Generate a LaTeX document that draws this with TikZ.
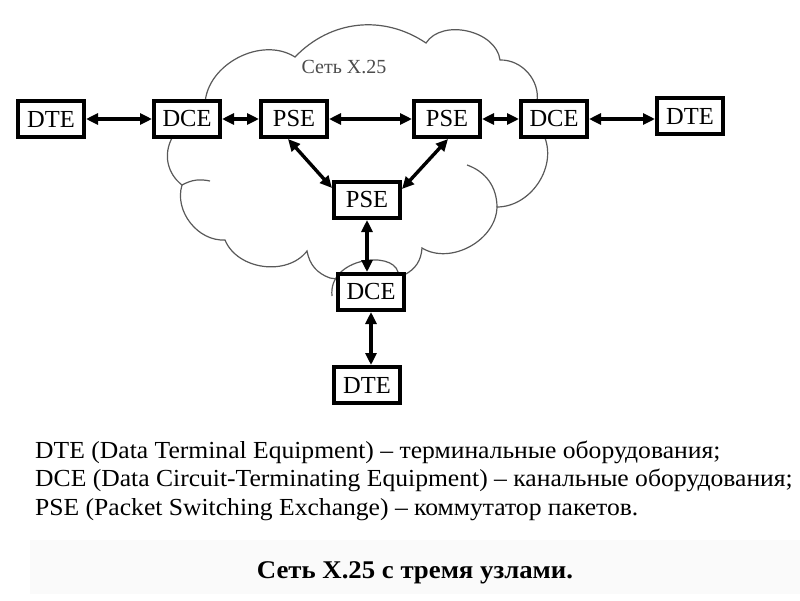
\documentclass[tikz,border=0pt]{standalone}
\usepackage{fontspec}
\setmainfont{Liberation Serif}
\usetikzlibrary{arrows.meta}
\begin{document}
\begin{tikzpicture}[x=1pt,y=-1pt,
  box/.style={draw, line width=4pt, fill=white, minimum width=66pt, minimum height=36pt, inner sep=0pt, font=\fontsize{24.5}{24.5}\selectfont},
  link/.style={line width=3.4pt, {Triangle[length=12pt,width=11pt]}-{Triangle[length=12pt,width=11pt]}},
  cloudline/.style={draw=black!65, line width=1.2pt},
  legend/.style={anchor=base west, inner sep=0pt, xscale=1.045, font=\fontsize{24.5}{24.5}\selectfont}]
\useasboundingbox (0,0) rectangle (800,600);
\fill[black!2] (30,540) rectangle (800,594);
% cloud
\draw[cloudline, fill=white] (205,104) to[bend left=60] (295,57) to[bend left=40] (426,43)
  to[bend left=70] (500,60) to[bend left=50] (537,102) -- (545,138)
  to[bend left=55] (497,207) to[bend left=60] (422,248) to[bend left=30] (404,275)
  -- (337,279) -- (330,278) to[bend left=30] (307,251) to[bend left=60] (225,240)
  to[bend left=55] (182,185) to[bend left=40] (172,138) -- cycle;
\draw[cloudline] (467,165) to[bend left=35] (497,207);
\draw[cloudline] (182,185) to[bend left=20] (210,181);
\draw[cloudline] (332,296) .. controls (328,258) and (392,250) .. (398,272);
\node[text=black!70, font=\fontsize{20}{20}\selectfont, inner sep=0pt] (cloudlbl) at (344,67) {Сеть X.25};
% boxes
\node[box] (dte1) at (51,119) {DTE};
\node[box] (dce1) at (187,119) {DCE};
\node[box] (pse1) at (294,119) {PSE};
\node[box] (pse2) at (447,119) {PSE};
\node[box] (dce2) at (554,119) {DCE};
\node[box] (dte2) at (690,116) {DTE};
\node[box] (pse3) at (367,200) {PSE};
\node[box] (dce3) at (371,292) {DCE};
\node[box] (dte3) at (367,385) {DTE};
% links
\draw[link] (dte1.east) -- (dce1.west);
\draw[link] (dce1.east) -- (pse1.west);
\draw[link] (pse1.east) -- (pse2.west);
\draw[link] (pse2.east) -- (dce2.west);
\draw[link] (dce2.east) -- (dce2.east -| dte2.west);
\draw[link] ([xshift=-6pt]pse1.south) -- ([yshift=-8pt]pse3.north west);
\draw[link] ([xshift=1pt]pse2.south) -- ([yshift=-9pt]pse3.north east);
\draw[link] (pse3.south) -- (pse3.south |- dce3.north);
\draw[link] (dce3.south) -- (dce3.south |- dte3.north);
% legend
\node[legend] (leg1) at (35,458) {DTE (Data Terminal Equipment) – терминальные оборудования;};
\node[legend] (leg2) at (35,486.5) {DCE (Data Circuit-Terminating Equipment) – канальные оборудования;};
\node[legend] (leg3) at (35,515) {PSE (Packet Switching Exchange) – коммутатор пакетов.};
\node[anchor=base, inner sep=0pt, xscale=1.05, font=\bfseries\fontsize{25.5}{25.5}\selectfont] (title) at (415,578) {Сеть X.25 с тремя узлами.};
\end{tikzpicture}
\end{document}
